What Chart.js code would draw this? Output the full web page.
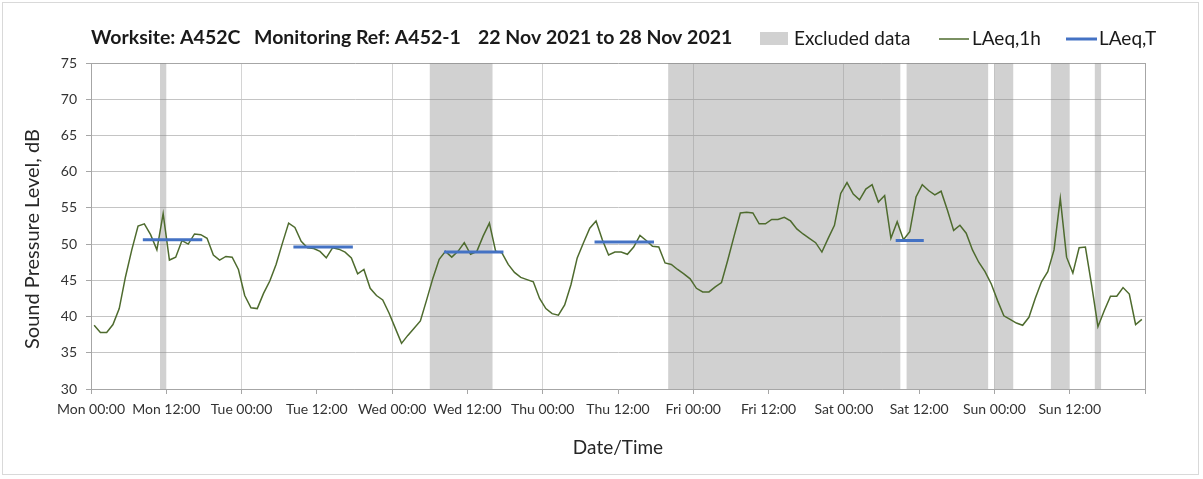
<!DOCTYPE html>
<html>
<head>
<meta charset="utf-8">
<script src="https://cdn.jsdelivr.net/npm/chart.js@4.4.0/dist/chart.umd.min.js"></script>
<style>
  body { margin: 0; background: #fff; }
  #wrap { width: 1203px; height: 479px; position: relative; }
</style>
</head>
<body>
<div id="wrap"><canvas id="chart" width="1203" height="479"></canvas></div>
<script>
// title pieces
const titleParts = ["Worksite: A452C", "Monitoring Ref: A452-1", "22 Nov 2021 to 28 Nov 2021"];
// x tick labels, every 12 hours from Mon 00:00 (last tick has no label)
const tickLabels = ["Mon 00:00", "Mon 12:00", "Tue 00:00", "Tue 12:00", "Wed 00:00", "Wed 12:00", "Thu 00:00",
  "Thu 12:00", "Fri 00:00", "Fri 12:00", "Sat 00:00", "Sat 12:00", "Sun 00:00", "Sun 12:00", ""];
// hourly LAeq,1h in dB, first hour starts Mon 00:00
const laeq1h = [
  38.8, 37.8, 37.8, 38.9, 41.1, 45.5, 49.2, 52.5, 52.8, 51.3,
  49.2, 54.2, 47.8, 48.2, 50.5, 50.0, 51.4, 51.3, 50.8, 48.5,
  47.8, 48.3, 48.2, 46.5, 42.9, 41.2, 41.1, 43.2, 44.9, 47.2,
  50.1, 52.9, 52.3, 50.4, 49.5, 49.4, 49.0, 48.1, 49.5, 49.3,
  48.9, 48.1, 45.9, 46.5, 43.9, 42.9, 42.3, 40.5, 38.4, 36.3,
  37.4, 38.4, 39.4, 42.3, 45.3, 47.9, 49.0, 48.2, 49.0, 50.2,
  48.6, 49.0, 51.1, 52.9, 49.0, 48.8, 47.2, 46.1, 45.4, 45.1,
  44.8, 42.5, 41.1, 40.4, 40.2, 41.6, 44.4, 48.1, 50.2, 52.2,
  53.2, 50.6, 48.5, 48.9, 48.9, 48.6, 49.6, 51.2, 50.5, 49.7,
  49.6, 47.4, 47.2, 46.5, 45.9, 45.2, 43.9, 43.4, 43.4, 44.1,
  44.7, 47.8, 51.1, 54.3, 54.4, 54.3, 52.8, 52.8, 53.4, 53.4,
  53.7, 53.2, 52.1, 51.4, 50.8, 50.2, 48.9, 50.8, 52.6, 57.0,
  58.5, 56.9, 56.1, 57.6, 58.2, 55.8, 56.7, 50.8, 53.1, 50.6,
  51.7, 56.5, 58.2, 57.4, 56.8, 57.3, 54.7, 51.9, 52.6, 51.5,
  49.2, 47.5, 46.2, 44.5, 42.2, 40.1, 39.6, 39.1, 38.8, 39.9,
  42.5, 44.8, 46.2, 49.2, 56.3, 48.2, 46.0, 49.5, 49.6, 44.3,
  38.6, 40.8, 42.8, 42.8, 44.0, 43.1, 38.9, 39.6
];
// LAeq,T periods (hours from Mon 00:00) and level
const periodStart = [8, 32, 56, 80, 128];
const periodEnd = [18, 42, 66, 90, 133];
const periodLevel = [50.6, 49.6, 48.9, 50.3, 50.5];
// excluded data ranges (hours from Mon 00:00)
const excludedStart = [11, 54, 92, 130, 144, 153, 160];
const excludedEnd = [12, 64, 129, 143, 147, 156, 161];

const FONT = "Lato";
const greenCol = "#4E6B2E";
const blueCol = "#4472C4";
const greyBand = "rgba(140,140,140,0.4)";

const lineData = laeq1h.map((v, i) => ({ x: i + 0.5, y: v }));

const periodData = [];
periodStart.forEach((s, i) => {
  periodData.push({ x: s + 0.5, y: periodLevel[i] });
  periodData.push({ x: periodEnd[i] - 0.5, y: periodLevel[i] });
  periodData.push({ x: periodEnd[i], y: null });
});

// one step per hour, value held until the next hour
const excludedData = [];
for (let h = 0; h <= 168; h++) {
  const inside = excludedStart.some((s, i) => h >= s && h < excludedEnd[i]);
  excludedData.push({ x: h, y: inside ? 75 : 30 });
}

// title, legend, y title and frame
const decorations = {
  id: "decorations",
  afterDraw(chart) {
    const ctx = chart.ctx;
    ctx.save();
    ctx.strokeStyle = "#d9d9d9";
    ctx.lineWidth = 1;
    ctx.strokeRect(2.5, 2.5, 1196, 472);

    ctx.textBaseline = "middle";
    ctx.fillStyle = "#1a1a1a";
    ctx.font = "bold 19.5px " + FONT;
    ctx.fillText(titleParts[0], 91, 38);
    ctx.fillText(titleParts[1], 254, 38);
    ctx.fillText(titleParts[2], 478, 38);

    ctx.font = "19px " + FONT;
    ctx.fillStyle = greyBand;
    ctx.fillRect(760, 32, 28, 13);
    ctx.fillStyle = "#1a1a1a";
    ctx.fillText("Excluded data", 794, 39);

    ctx.strokeStyle = greenCol;
    ctx.lineWidth = 1.5;
    ctx.beginPath(); ctx.moveTo(939, 39); ctx.lineTo(969, 39); ctx.stroke();
    ctx.fillText("LAeq,1h", 972, 39);

    ctx.strokeStyle = blueCol;
    ctx.lineWidth = 3;
    ctx.beginPath(); ctx.moveTo(1066, 39); ctx.lineTo(1097, 39); ctx.stroke();
    ctx.fillText("LAeq,T", 1099, 39);

    ctx.fillStyle = "#262626";
    ctx.font = "20px " + FONT;
    ctx.translate(33, 239);
    ctx.rotate(-Math.PI / 2);
    ctx.textAlign = "center";
    ctx.fillText("Sound Pressure Level, dB", 0, 0);
    ctx.restore();
  }
};

new Chart(document.getElementById("chart"), {
  type: "line",
  data: {
    datasets: [
      {
        label: "LAeq,T",
        data: periodData,
        borderColor: blueCol,
        borderWidth: 3,
        borderCapStyle: "square",
        pointRadius: 0,
        spanGaps: false,
        order: 1
      },
      {
        label: "LAeq,1h",
        data: lineData,
        borderColor: greenCol,
        borderWidth: 1.5,
        pointRadius: 0,
        tension: 0,
        order: 2
      },
      {
        label: "Excluded data",
        data: excludedData,
        stepped: "before",
        borderColor: "rgba(0,0,0,0)",
        borderWidth: 0,
        backgroundColor: greyBand,
        fill: "start",
        pointRadius: 0,
        order: 3
      }
    ]
  },
  options: {
    responsive: false,
    animation: false,
    devicePixelRatio: 1,
    layout: { padding: { left: 0, top: 63, right: 58, bottom: 0 } },
    plugins: {
      legend: { display: false },
      tooltip: { enabled: false }
    },
    scales: {
      x: {
        type: "linear",
        min: 0,
        max: 168,
        ticks: {
          stepSize: 12,
          autoSkip: false,
          maxRotation: 0,
          padding: 7,
          color: "#333",
          font: { family: FONT, size: 14 },
          callback: (v) => tickLabels[v / 12]
        },
        grid: {
          color: (c) => {
            const v = c.tick ? c.tick.value : 0;
            if (v % 24 !== 0) return "rgba(0,0,0,0)";
            return (v === 0 || v === 168) ? "#a6a6a6" : "#d4d4d4";
          },
          tickColor: "#a6a6a6",
          tickLength: 5
        },
        border: { color: "#a6a6a6" },
        title: {
          display: true,
          text: "Date/Time",
          color: "#262626",
          font: { family: FONT, size: 19 },
          padding: { top: 0, bottom: 20 }
        },
        afterFit: (s) => { s.height = 90; }
      },
      y: {
        min: 30,
        max: 75,
        ticks: {
          stepSize: 5,
          padding: 9,
          color: "#333",
          font: { family: FONT, size: 14 }
        },
        grid: {
          color: (c) => (c.tick && c.tick.value === 75) ? "#a6a6a6" : "#c4c4c4",
          tickColor: "#a6a6a6",
          tickLength: 5
        },
        border: { color: "#a6a6a6" },
        afterFit: (s) => { s.width = 91; }
      }
    }
  },
  plugins: [decorations]
});
</script>
</body>
</html>
